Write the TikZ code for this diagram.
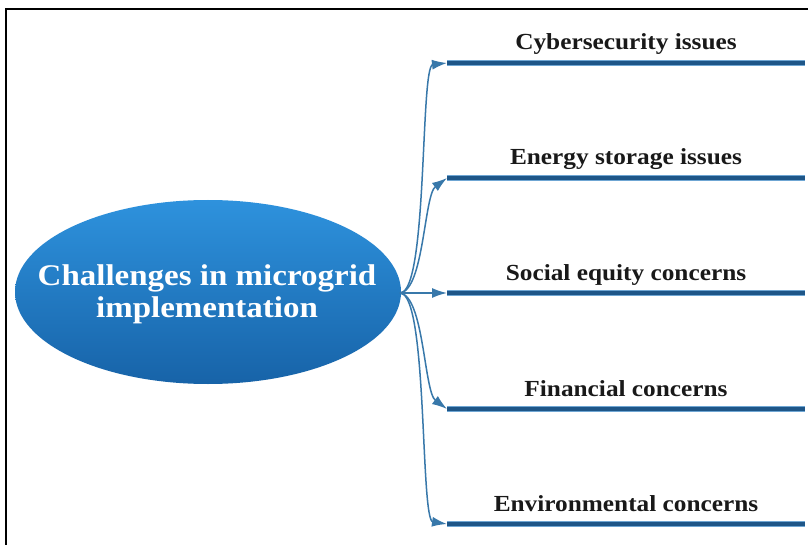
\documentclass[tikz,border=0pt]{standalone}
\usepackage{fontspec}
\setmainfont{Liberation Serif}
\newfontfamily\lblfont[FakeStretch=1.1]{Liberation Serif}
\newfontfamily\rootfont[FakeStretch=1.1]{Liberation Serif}
\usetikzlibrary{shapes.geometric,arrows.meta}
\definecolor{framec}{HTML}{000000}
\definecolor{elltop}{HTML}{2E92DD}
\definecolor{ellbot}{HTML}{1763A8}
\definecolor{linedark}{HTML}{1E5688}
\definecolor{lineedge}{HTML}{6FA6D3}
\definecolor{arrowc}{HTML}{3878AA}
\tikzset{
  rootnode/.style={inner sep=0pt, text=white, align=center,
    font=\rootfont\bfseries\fontsize{30}{32}\selectfont},
  ellfill/.style={top color=elltop, bottom color=ellbot, draw=none},
  branch/.style={draw=arrowc, line width=1.5pt, -{Latex[length=15pt,width=10pt]}},
  barline/.style={draw=linedark, line width=4pt},
  baredge/.style={draw=lineedge, line width=5.5pt},
  labelnode/.style={font=\lblfont\bfseries\fontsize{23}{26}\selectfont, text=black!90, anchor=base, inner sep=0pt}
}
\begin{document}
\begin{tikzpicture}[x=1pt,y=-1pt]
\useasboundingbox (0,0) rectangle (808,545);
\fill[white] (0,0) rectangle (808,545);
\draw[line width=2pt, framec] (6,545) -- (6,9) -- (808,9);
\shade[ellfill] (208,292) ellipse [x radius=193, y radius=92];
\node[rootnode] (root) at (207,294) {Challenges in microgrid\\implementation};
\coordinate (o) at (400,293);
\foreach \n/\y/\t in {a/63/Cybersecurity issues, b/178/Energy storage issues, c/293/Social equity concerns, d/409/Financial concerns, e/524/Environmental concerns}{
  \coordinate (s\n) at (447,\y);
  \coordinate (t\n) at (805,\y);
  \draw[baredge] (s\n) -- (t\n);
  \draw[barline] (s\n) -- (t\n);
  \node[labelnode] (l\n) at (626,\y-13) {\t};
}
\draw[branch] (o) .. controls (428,293) and (420,66) .. (sa);
\draw[branch] (o) .. controls (424,290) and (424,195) .. (sb);
\draw[branch] (o) -- (sc);
\draw[branch] (o) .. controls (424,296) and (424,392) .. (sd);
\draw[branch] (o) .. controls (428,293) and (420,520) .. (se);
\end{tikzpicture}
\end{document}
